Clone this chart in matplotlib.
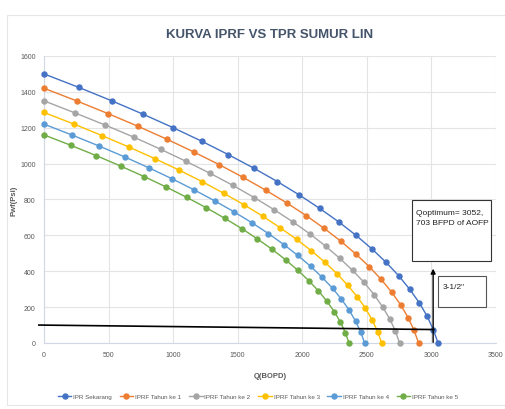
import matplotlib.pyplot as plt
from matplotlib.patches import Rectangle

plt.rcParams['font.family'] = ['Liberation Sans Narrow', 'Liberation Sans', 'DejaVu Sans']

# IPR / IPRF curves (Q in BOPD, Pwf in psi)
q_now = [0, 269, 525, 769, 1001, 1221, 1428, 1624, 1807, 1978, 2136, 2283, 2417, 2539, 2649, 2747, 2832, 2906, 2967, 3015, 3052]
p_now = [1500, 1425, 1350, 1275, 1200, 1125, 1050, 975, 900, 825, 750, 675, 600, 525, 450, 375, 300, 225, 150, 75, 0]
q_y1 = [0, 255, 499, 731, 952, 1160, 1358, 1543, 1717, 1880, 2031, 2170, 2298, 2414, 2518, 2611, 2692, 2762, 2820, 2866, 2901]
p_y1 = [1420, 1349, 1278, 1207, 1136, 1065, 994, 923, 852, 781, 710, 639, 568, 497, 426, 355, 284, 213, 142, 71, 0]
q_y2 = [0, 242, 474, 694, 903, 1102, 1289, 1465, 1630, 1785, 1928, 2060, 2181, 2291, 2390, 2479, 2556, 2622, 2677, 2721, 2754]
p_y2 = [1350, 1282, 1215, 1148, 1080, 1012, 945, 878, 810, 742, 675, 608, 540, 472, 405, 338, 270, 202, 135, 68, 0]
q_y3 = [0, 230, 450, 659, 858, 1046, 1224, 1391, 1548, 1694, 1830, 1956, 2071, 2176, 2270, 2353, 2427, 2490, 2542, 2584, 2615]
p_y3 = [1285, 1221, 1156, 1092, 1028, 964, 900, 835, 771, 707, 642, 578, 514, 450, 386, 321, 257, 193, 128, 64, 0]
q_y4 = [0, 218, 427, 626, 814, 993, 1162, 1321, 1470, 1609, 1738, 1857, 1966, 2066, 2155, 2235, 2304, 2364, 2413, 2453, 2483]
p_y4 = [1220, 1159, 1098, 1037, 976, 915, 854, 793, 732, 671, 610, 549, 488, 427, 366, 305, 244, 183, 122, 61, 0]
q_y5 = [0, 208, 406, 595, 775, 945, 1105, 1257, 1398, 1531, 1653, 1767, 1871, 1965, 2050, 2126, 2192, 2249, 2296, 2334, 2362]
p_y5 = [1160, 1102, 1044, 986, 928, 870, 812, 754, 696, 638, 580, 522, 464, 406, 348, 290, 232, 174, 116, 58, 0]

labels = ["IPR Sekarang", "IPRF Tahun ke 1", "IPRF Tahun ke 2", "IPRF Tahun ke 3", "IPRF Tahun ke 4", "IPRF Tahun ke 5"]
colors = ["#4472C4", "#ED7D31", "#A5A5A5", "#FFC000", "#5B9BD5", "#70AD47"]

# TPR 3-1/2" line and optimum rate
q_tpr = [-40, 3020]
p_tpr = [100, 75]
q_opt = 3014

fig = plt.figure(figsize=(5.06, 4.10), dpi=100)
fig.patches.append(Rectangle((0.014, 0.01), 0.99, 0.951, transform=fig.transFigure,
                             fill=False, edgecolor="#E6E6E6", linewidth=0.8))
ax = fig.add_axes([0.087, 0.161, 0.893, 0.700])

series = [(q_now, p_now), (q_y1, p_y1), (q_y2, p_y2), (q_y3, p_y3), (q_y4, p_y4), (q_y5, p_y5)]
for (q, p), lab, c in zip(series, labels, colors):
    ax.plot(q, p, color=c, marker="o", markersize=3.6, linewidth=1, label=lab, clip_on=False, zorder=3)

ax.plot(q_tpr, p_tpr, color="black", linewidth=1.2, clip_on=False, zorder=4)
ax.annotate("", xy=(q_opt, 430), xytext=(q_opt, -12), annotation_clip=False,
            arrowprops=dict(arrowstyle="-|>", color="black", lw=1, mutation_scale=7), zorder=4)

ax.add_patch(Rectangle((2847, 455), 619, 343, fill=True, facecolor="white", edgecolor="#333333",
                       linewidth=0.8, clip_on=False, zorder=5))
ax.text(2885, 745, "Qoptimum= 3052,\n703 BFPD of AOFP", fontsize=6, va="top", ha="left",
        linespacing=1.6, zorder=6, color="#222222")
ax.add_patch(Rectangle((3053, 199), 371, 176, fill=True, facecolor="white", edgecolor="#555555",
                       linewidth=0.8, clip_on=False, zorder=5))
ax.text(3090, 335, '3-1/2"', fontsize=6, va="top", ha="left", zorder=6, color="#222222")

ax.set_xlim(0, 3500)
ax.set_ylim(0, 1600)
ax.set_xticks(range(0, 3501, 500))
ax.set_yticks(range(0, 1601, 200))
ax.grid(True, color="#E4E4E4", linewidth=0.8)
ax.set_axisbelow(True)
for s in ["top", "right"]:
    ax.spines[s].set_visible(False)
ax.spines["left"].set_color("#D0D8E8")
ax.spines["bottom"].set_color("#D0D8E8")
ax.tick_params(labelsize=5, colors="#595959", length=0, pad=6)

ax.set_title("KURVA IPRF VS TPR SUMUR LIN", fontsize=9.5, fontweight="bold", color="#44546A", pad=14)
ax.set_xlabel("Q(BOPD)", fontsize=5.5, fontweight="bold", color="#595959", labelpad=10)
ax.set_ylabel("Pwf(Psi)", fontsize=5.5, fontweight="bold", color="#595959", labelpad=2)

fig.legend(loc="center", bbox_to_anchor=(0.51, 0.03), ncol=6, fontsize=4.5, frameon=False,
           handlelength=2.2, columnspacing=1.2, handletextpad=0.3, labelcolor="#595959")

fig.savefig("out.png", dpi=100)
